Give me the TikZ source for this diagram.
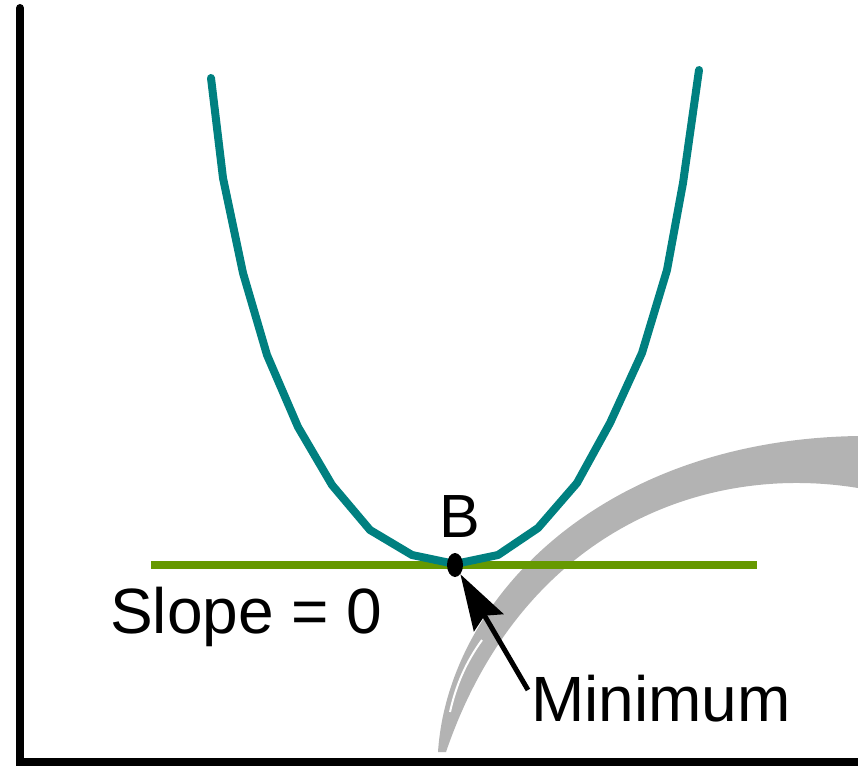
\documentclass[tikz,border=0pt]{standalone}
\usepackage{fontspec}
\setmainfont{Liberation Sans}
\usetikzlibrary{arrows.meta,shapes.geometric}
\definecolor{curveteal}{HTML}{008080}
\definecolor{slopegreen}{HTML}{669900}
\definecolor{swooshgrey}{HTML}{B3B3B3}
\tikzset{
  axisline/.style={line width=8pt, black},
  curveline/.style={line width=8pt, curveteal, line cap=round, line join=round},
  slopeline/.style={line width=8pt, slopegreen},
  bigtext/.style={inner sep=0pt, font=\fontsize{64}{70}\selectfont},
  arrowline/.style={line width=5pt, -{Stealth[length=56pt,width=34pt,inset=8pt]}},
}
\begin{document}
\begin{tikzpicture}[x=1pt,y=-1pt]
\useasboundingbox (0,0) rectangle (858,765);
% grey brush swoosh (background)
\fill[swooshgrey] (438,752) .. controls (448,600) and (600,440) .. (858,436)
  -- (858,488) .. controls (700,462) and (520,535) .. (446,752) -- cycle;
\draw[white, line width=2pt] (450,712) .. controls (456,685) and (466,662) .. (482,640);
% axes
\draw[axisline, line cap=round] (20,8) -- (20,762);
\draw[axisline] (16,762) -- (858,762);
% slope line
\draw[slopeline] (151,565) -- (757,565);
% curve
\draw[curveline] (211,78) -- (223,178) -- (243,273) -- (267,355) -- (298,427)
  -- (332,485) -- (370,530) -- (412,555) -- (455,564) -- (498,555) -- (538,528)
  -- (577,483) -- (610,423) -- (642,353) -- (667,270) -- (683,183) -- (699,70);
% minimum point
\node[ellipse, fill=black, minimum width=16pt, minimum height=24pt, inner sep=0pt] (dot) at (455,565) {};
% labels
\node[bigtext, font=\fontsize{61}{66}\selectfont, anchor=base west] (blabel) at (439,537) {B};
\node[bigtext, anchor=base west] (slope) at (110,633) {Slope = 0};
\node[bigtext, anchor=base west] (minlabel) at (531,721) {Minimum};
\coordinate (arrstart) at (528,690);
\draw[arrowline] (arrstart) -- (dot);
\end{tikzpicture}
\end{document}
